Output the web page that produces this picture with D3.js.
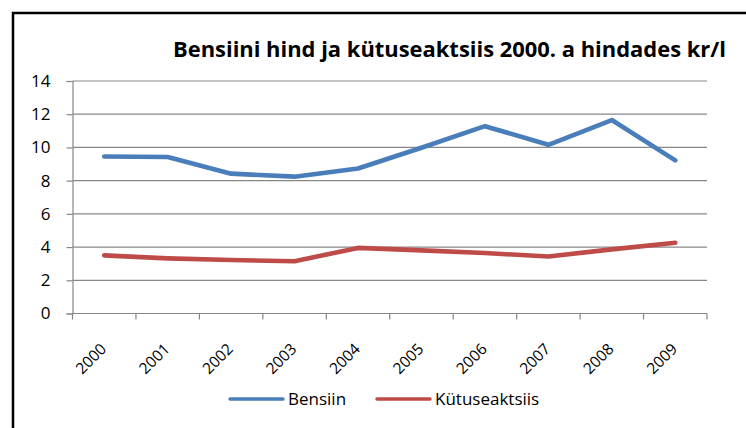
<!DOCTYPE html>
<html>
<head>
<meta charset="utf-8">
<script src="https://cdn.jsdelivr.net/npm/d3@7"></script>
<style>
  body { margin: 0; background: #fff; }
  svg { display: block; }
  text { font-family: "Open Sans", "Noto Sans", sans-serif; fill: #000; }
</style>
</head>
<body>
<script>
// data
const years = ["2000", "2001", "2002", "2003", "2004", "2005", "2006", "2007", "2008", "2009"];
const bensiin = [9.45, 9.42, 8.42, 8.24, 8.73, 9.98, 11.28, 10.16, 11.65, 9.22];
const aktsiis = [3.50, 3.32, 3.22, 3.15, 3.95, 3.80, 3.64, 3.43, 3.86, 4.26];
const yTicks = [0, 2, 4, 6, 8, 10, 12, 14];
const seriesNames = ["Bensiin", "Kütuseaktsiis"];
const seriesColors = ["#4a7ebb", "#be4b48"];

const W = 746, H = 428;
const svg = d3.select("body").append("svg")
  .attr("width", W)
  .attr("height", H);

// outer frame (runs off the right and bottom of the picture)
svg.append("rect")
  .attr("x", 13).attr("y", 13)
  .attr("width", W + 20).attr("height", H + 20)
  .attr("fill", "none")
  .attr("stroke", "#000")
  .attr("stroke-width", 2.5);

// title
svg.append("text")
  .attr("x", 173).attr("y", 57)
  .attr("textLength", 553)
  .attr("lengthAdjust", "spacingAndGlyphs")
  .style("font-size", "22px")
  .style("font-weight", "bold")
  .text("Bensiini hind ja kütuseaktsiis 2000. a hindades kr/l");

const pLeft = 72.5, pRight = 707, pTop = 81, pBottom = 313.5;

const x = d3.scaleBand().domain(years).range([pLeft, pRight]);
const y = d3.scaleLinear().domain([0, 14]).range([pBottom, pTop]);

// gridlines
svg.append("g")
  .selectAll("line")
  .data(yTicks.filter(d => d > 0))
  .join("line")
  .attr("x1", pLeft).attr("x2", pRight)
  .attr("y1", d => y(d)).attr("y2", d => y(d))
  .attr("stroke", "#878787")
  .attr("stroke-width", 1.2);

// y axis
const yAxis = svg.append("g")
  .attr("transform", `translate(${pLeft},0)`)
  .call(d3.axisLeft(y).tickValues(yTicks).tickSize(6).tickPadding(16).tickFormat(d3.format("d")));
yAxis.select(".domain").attr("stroke", "#878787").attr("stroke-width", 1.2);
yAxis.selectAll(".tick line").attr("stroke", "#878787").attr("stroke-width", 1.2);
yAxis.selectAll(".tick text")
  .style("font-size", "17px")
  .style("font-family", "'Open Sans', sans-serif")
  .attr("fill", "#000");

// x axis: ticks at band edges
const edges = years.map(d => x(d)).concat([pRight]);
const xAxis = svg.append("g");
xAxis.append("line")
  .attr("x1", pLeft).attr("x2", pRight)
  .attr("y1", pBottom).attr("y2", pBottom)
  .attr("stroke", "#878787").attr("stroke-width", 1.2);
xAxis.selectAll("line.tk")
  .data(edges)
  .join("line")
  .attr("class", "tk")
  .attr("x1", d => d).attr("x2", d => d)
  .attr("y1", pBottom).attr("y2", pBottom + 6)
  .attr("stroke", "#878787").attr("stroke-width", 1.2);
xAxis.selectAll("text")
  .data(years)
  .join("text")
  .attr("transform", d => `translate(${x(d) + x.bandwidth() / 2 + 3},${pBottom + 36.5}) rotate(-45)`)
  .attr("text-anchor", "end")
  .style("font-size", "15.5px")
  .text(d => d);

// lines
const line = d3.line()
  .x((d, i) => x(years[i]) + x.bandwidth() / 2)
  .y(d => y(d));

[bensiin, aktsiis].forEach((s, k) => {
  svg.append("path")
    .datum(s)
    .attr("d", line)
    .attr("fill", "none")
    .attr("stroke", seriesColors[k])
    .attr("stroke-width", 4.6)
    .attr("stroke-linejoin", "round")
    .attr("stroke-linecap", "round");
});

// legend
const legendX = [230, 377];
const legend = svg.append("g");
seriesNames.forEach((name, k) => {
  legend.append("line")
    .attr("x1", legendX[k]).attr("x2", legendX[k] + 53)
    .attr("y1", 399).attr("y2", 399)
    .attr("stroke", seriesColors[k])
    .attr("stroke-width", 3.5)
    .attr("stroke-linecap", "round");
  legend.append("text")
    .attr("x", legendX[k] + 58)
    .attr("y", 405)
    .style("font-size", "17px")
    .text(name);
});
</script>
</body>
</html>
